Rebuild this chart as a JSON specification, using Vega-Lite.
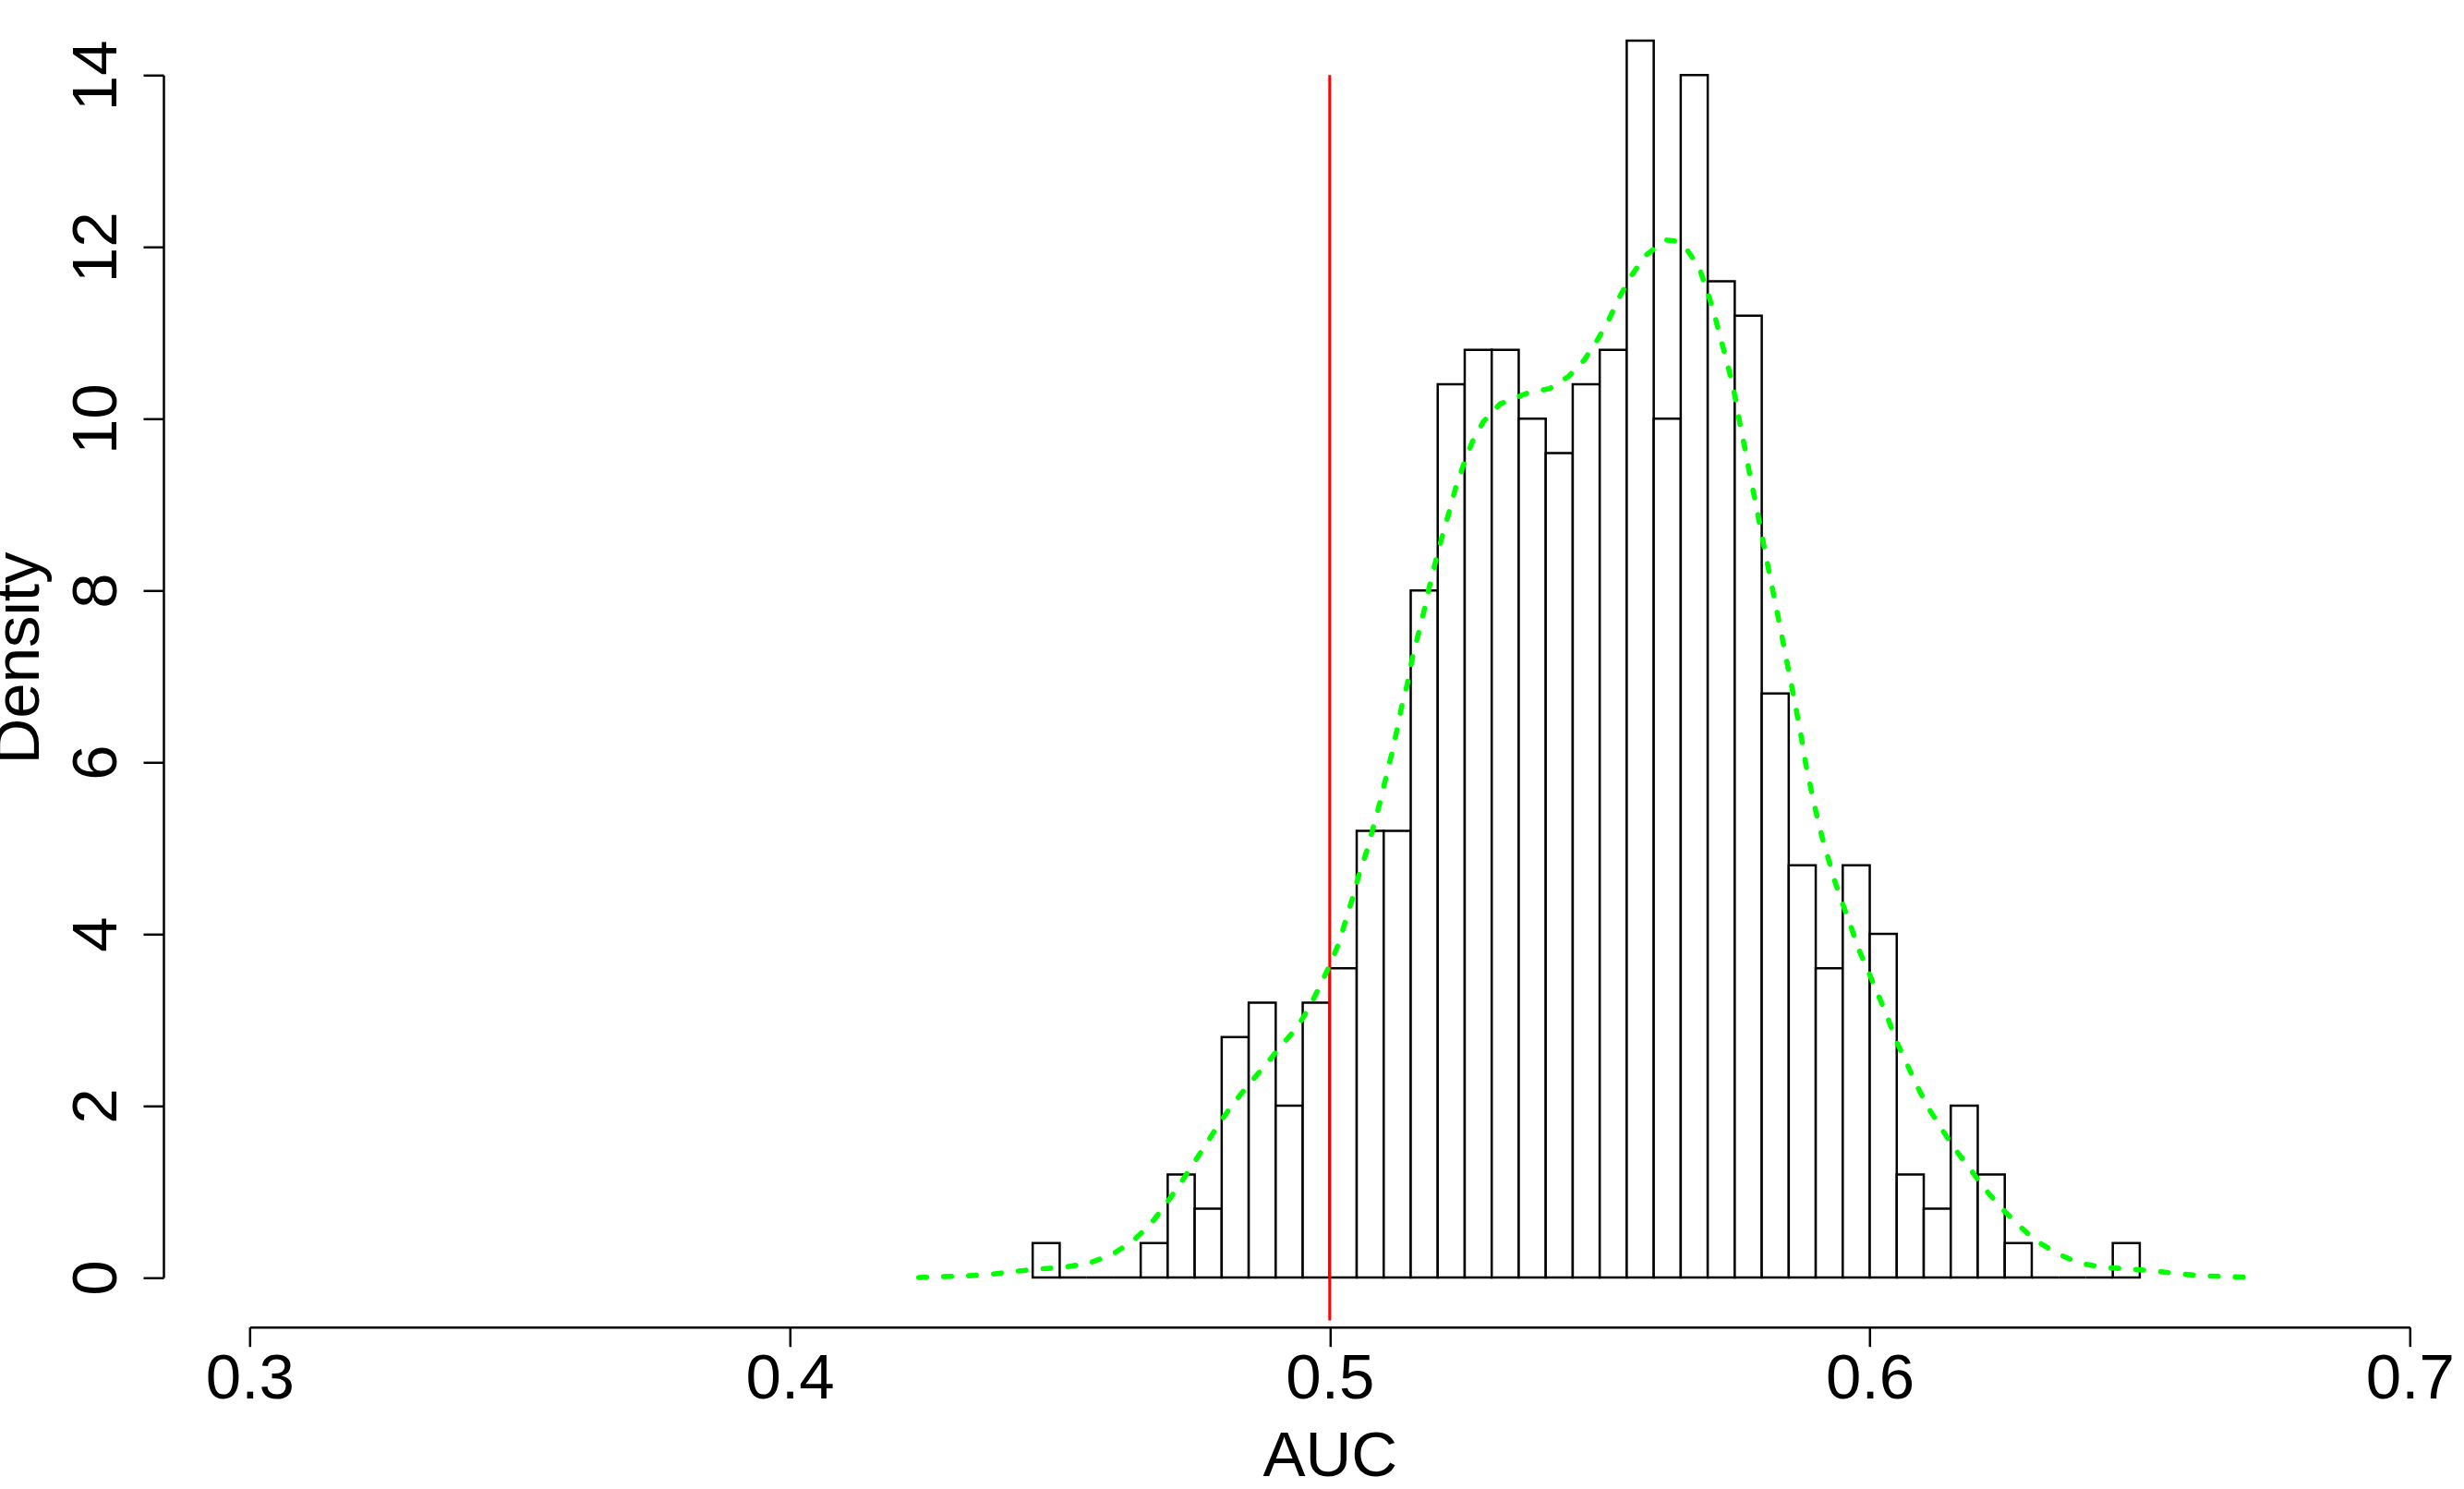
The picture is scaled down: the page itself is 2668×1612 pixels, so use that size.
{
  "$schema": "https://vega.github.io/schema/vega-lite/v6.json",
  "autosize": {"type": "none"},
  "padding": {"left": 270.3, "top": 81.3, "right": 58.7, "bottom": 229},
  "width": 2339,
  "height": 1301.7,
  "background": "white",
  "config": {
    "view": {"stroke": null},
    "font": "Liberation Sans",
    "axis": {
      "grid": false,
      "domainColor": "black",
      "tickColor": "black",
      "labelColor": "black",
      "titleColor": "black",
      "domainWidth": 2.5,
      "tickWidth": 2.5,
      "labelFont": "Liberation Sans",
      "titleFont": "Liberation Sans",
      "labelFontSize": 69,
      "titleFontSize": 69,
      "titleFontWeight": "normal",
      "labelOverlap": false,
      "labelFlush": false,
      "labelBound": false
    }
  },
  "datasets": {
    "bins": [
      {"bin_start": 0.445, "bin_end": 0.450, "density": 0.4},
      {"bin_start": 0.450, "bin_end": 0.455, "density": 0.0},
      {"bin_start": 0.455, "bin_end": 0.460, "density": 0.0},
      {"bin_start": 0.460, "bin_end": 0.465, "density": 0.0},
      {"bin_start": 0.465, "bin_end": 0.470, "density": 0.4},
      {"bin_start": 0.470, "bin_end": 0.475, "density": 1.2},
      {"bin_start": 0.475, "bin_end": 0.480, "density": 0.8},
      {"bin_start": 0.480, "bin_end": 0.485, "density": 2.8},
      {"bin_start": 0.485, "bin_end": 0.490, "density": 3.2},
      {"bin_start": 0.490, "bin_end": 0.495, "density": 2.0},
      {"bin_start": 0.495, "bin_end": 0.500, "density": 3.2},
      {"bin_start": 0.500, "bin_end": 0.505, "density": 3.6},
      {"bin_start": 0.505, "bin_end": 0.510, "density": 5.2},
      {"bin_start": 0.510, "bin_end": 0.515, "density": 5.2},
      {"bin_start": 0.515, "bin_end": 0.520, "density": 8.0},
      {"bin_start": 0.520, "bin_end": 0.525, "density": 10.4},
      {"bin_start": 0.525, "bin_end": 0.530, "density": 10.8},
      {"bin_start": 0.530, "bin_end": 0.535, "density": 10.8},
      {"bin_start": 0.535, "bin_end": 0.540, "density": 10.0},
      {"bin_start": 0.540, "bin_end": 0.545, "density": 9.6},
      {"bin_start": 0.545, "bin_end": 0.550, "density": 10.4},
      {"bin_start": 0.550, "bin_end": 0.555, "density": 10.8},
      {"bin_start": 0.555, "bin_end": 0.560, "density": 14.4},
      {"bin_start": 0.560, "bin_end": 0.565, "density": 10.0},
      {"bin_start": 0.565, "bin_end": 0.570, "density": 14.0},
      {"bin_start": 0.570, "bin_end": 0.575, "density": 11.6},
      {"bin_start": 0.575, "bin_end": 0.580, "density": 11.2},
      {"bin_start": 0.580, "bin_end": 0.585, "density": 6.8},
      {"bin_start": 0.585, "bin_end": 0.590, "density": 4.8},
      {"bin_start": 0.590, "bin_end": 0.595, "density": 3.6},
      {"bin_start": 0.595, "bin_end": 0.600, "density": 4.8},
      {"bin_start": 0.600, "bin_end": 0.605, "density": 4.0},
      {"bin_start": 0.605, "bin_end": 0.610, "density": 1.2},
      {"bin_start": 0.610, "bin_end": 0.615, "density": 0.8},
      {"bin_start": 0.615, "bin_end": 0.620, "density": 2.0},
      {"bin_start": 0.620, "bin_end": 0.625, "density": 1.2},
      {"bin_start": 0.625, "bin_end": 0.630, "density": 0.4},
      {"bin_start": 0.630, "bin_end": 0.635, "density": 0.0},
      {"bin_start": 0.635, "bin_end": 0.640, "density": 0.0},
      {"bin_start": 0.640, "bin_end": 0.645, "density": 0.0},
      {"bin_start": 0.645, "bin_end": 0.650, "density": 0.4}
    ],
    "refline": [
      {"auc": 0.5, "low": -0.5, "high": 14}
    ],
    "kde": [
      {"x": 0.4239, "y": 0.0},
      {"x": 0.4285, "y": 0.01},
      {"x": 0.4331, "y": 0.02},
      {"x": 0.4376, "y": 0.04},
      {"x": 0.4422, "y": 0.075},
      {"x": 0.4465, "y": 0.10},
      {"x": 0.4510, "y": 0.12},
      {"x": 0.4556, "y": 0.17},
      {"x": 0.4598, "y": 0.27},
      {"x": 0.4636, "y": 0.43},
      {"x": 0.4667, "y": 0.61},
      {"x": 0.4695, "y": 0.84},
      {"x": 0.4721, "y": 1.07},
      {"x": 0.4747, "y": 1.32},
      {"x": 0.4772, "y": 1.56},
      {"x": 0.4795, "y": 1.79},
      {"x": 0.4821, "y": 2.02},
      {"x": 0.4849, "y": 2.24},
      {"x": 0.4878, "y": 2.45},
      {"x": 0.4909, "y": 2.69},
      {"x": 0.4938, "y": 2.90},
      {"x": 0.4960, "y": 3.12},
      {"x": 0.4984, "y": 3.42},
      {"x": 0.5001, "y": 3.65},
      {"x": 0.5018, "y": 3.91},
      {"x": 0.5030, "y": 4.17},
      {"x": 0.5044, "y": 4.45},
      {"x": 0.5055, "y": 4.71},
      {"x": 0.5070, "y": 4.99},
      {"x": 0.5081, "y": 5.25},
      {"x": 0.5093, "y": 5.53},
      {"x": 0.5104, "y": 5.82},
      {"x": 0.5115, "y": 6.10},
      {"x": 0.5124, "y": 6.36},
      {"x": 0.5133, "y": 6.64},
      {"x": 0.5144, "y": 6.92},
      {"x": 0.5153, "y": 7.21},
      {"x": 0.5164, "y": 7.49},
      {"x": 0.5175, "y": 7.77},
      {"x": 0.5184, "y": 8.03},
      {"x": 0.5195, "y": 8.31},
      {"x": 0.5207, "y": 8.60},
      {"x": 0.5221, "y": 8.91},
      {"x": 0.5233, "y": 9.19},
      {"x": 0.5247, "y": 9.45},
      {"x": 0.5264, "y": 9.73},
      {"x": 0.5284, "y": 9.96},
      {"x": 0.5315, "y": 10.17},
      {"x": 0.5367, "y": 10.30},
      {"x": 0.5407, "y": 10.35},
      {"x": 0.5442, "y": 10.49},
      {"x": 0.5471, "y": 10.68},
      {"x": 0.5497, "y": 10.93},
      {"x": 0.5516, "y": 11.14},
      {"x": 0.5536, "y": 11.41},
      {"x": 0.5559, "y": 11.67},
      {"x": 0.5585, "y": 11.90},
      {"x": 0.5622, "y": 12.08},
      {"x": 0.5640, "y": 12.07},
      {"x": 0.5659, "y": 11.99},
      {"x": 0.5684, "y": 11.76},
      {"x": 0.5696, "y": 11.54},
      {"x": 0.5710, "y": 11.27},
      {"x": 0.5721, "y": 11.00},
      {"x": 0.5733, "y": 10.72},
      {"x": 0.5744, "y": 10.45},
      {"x": 0.5753, "y": 10.18},
      {"x": 0.5761, "y": 9.89},
      {"x": 0.5770, "y": 9.62},
      {"x": 0.5778, "y": 9.34},
      {"x": 0.5787, "y": 9.07},
      {"x": 0.5800, "y": 8.65},
      {"x": 0.5815, "y": 8.17},
      {"x": 0.5830, "y": 7.70},
      {"x": 0.5845, "y": 7.22},
      {"x": 0.5860, "y": 6.74},
      {"x": 0.5873, "y": 6.30},
      {"x": 0.5882, "y": 5.96},
      {"x": 0.5891, "y": 5.69},
      {"x": 0.5900, "y": 5.43},
      {"x": 0.5912, "y": 5.12},
      {"x": 0.5924, "y": 4.86},
      {"x": 0.5936, "y": 4.60},
      {"x": 0.5951, "y": 4.33},
      {"x": 0.5966, "y": 4.07},
      {"x": 0.5981, "y": 3.80},
      {"x": 0.5999, "y": 3.54},
      {"x": 0.6017, "y": 3.27},
      {"x": 0.6034, "y": 3.01},
      {"x": 0.6050, "y": 2.74},
      {"x": 0.6068, "y": 2.50},
      {"x": 0.6086, "y": 2.25},
      {"x": 0.6107, "y": 1.99},
      {"x": 0.6131, "y": 1.75},
      {"x": 0.6155, "y": 1.52},
      {"x": 0.6185, "y": 1.27},
      {"x": 0.6212, "y": 1.04},
      {"x": 0.6242, "y": 0.82},
      {"x": 0.6272, "y": 0.63},
      {"x": 0.6305, "y": 0.44},
      {"x": 0.6344, "y": 0.29},
      {"x": 0.6386, "y": 0.17},
      {"x": 0.6431, "y": 0.12},
      {"x": 0.6476, "y": 0.10},
      {"x": 0.6521, "y": 0.08},
      {"x": 0.6569, "y": 0.045},
      {"x": 0.6614, "y": 0.02},
      {"x": 0.6659, "y": 0.01},
      {"x": 0.6713, "y": 0.0}
    ]
  },
  "layer": [
    {
      "data": {"name": "bins"},
      "mark": {"type": "rect", "fill": "white", "stroke": "black", "strokeWidth": 2.5},
      "encoding": {
        "x": {
          "field": "bin_start", "type": "quantitative",
          "scale": {"domain": [0.3, 0.7], "nice": false, "zero": false},
          "axis": {
            "orient": "bottom", "offset": 53.7,
            "values": [0.3, 0.4, 0.5, 0.6, 0.7], "format": ".1f",
            "tickSize": 21, "labelPadding": 55.6, "labelBaseline": "alphabetic",
            "title": "AUC", "titleY": 161, "titleBaseline": "alphabetic"
          }
        },
        "x2": {"field": "bin_end"},
        "y": {
          "field": "density", "type": "quantitative",
          "scale": {"domain": [0, 14], "nice": false, "zero": false},
          "axis": {
            "orient": "left", "offset": 93.3,
            "values": [0, 2, 4, 6, 8, 10, 12, 14], "format": "d",
            "tickSize": 22, "labelAngle": 270, "labelAlign": "center",
            "labelBaseline": "alphabetic", "labelPadding": 29,
            "title": "Density", "titleAngle": 270, "titleAlign": "center",
            "titleBaseline": "alphabetic", "titleX": -135, "titleY": 630.7
          }
        },
        "y2": {"datum": 0}
      }
    },
    {
      "data": {"name": "refline"},
      "mark": {"type": "rule", "color": "#FF0000", "strokeWidth": 3},
      "encoding": {
        "x": {"field": "auc", "type": "quantitative", "scale": {"domain": [0.3, 0.7], "nice": false, "zero": false}},
        "y": {"field": "low", "type": "quantitative", "scale": {"domain": [0, 14], "nice": false, "zero": false}},
        "y2": {"field": "high"}
      }
    },
    {
      "data": {"name": "kde"},
      "mark": {"type": "line", "color": "#00FF00", "strokeWidth": 5.6, "strokeDash": [8.5, 18.5], "strokeCap": "round"},
      "encoding": {
        "x": {"field": "x", "type": "quantitative", "scale": {"domain": [0.3, 0.7], "nice": false, "zero": false}},
        "y": {"field": "y", "type": "quantitative", "scale": {"domain": [0, 14], "nice": false, "zero": false}},
        "order": {"field": "x", "type": "quantitative"}
      }
    }
  ]
}
